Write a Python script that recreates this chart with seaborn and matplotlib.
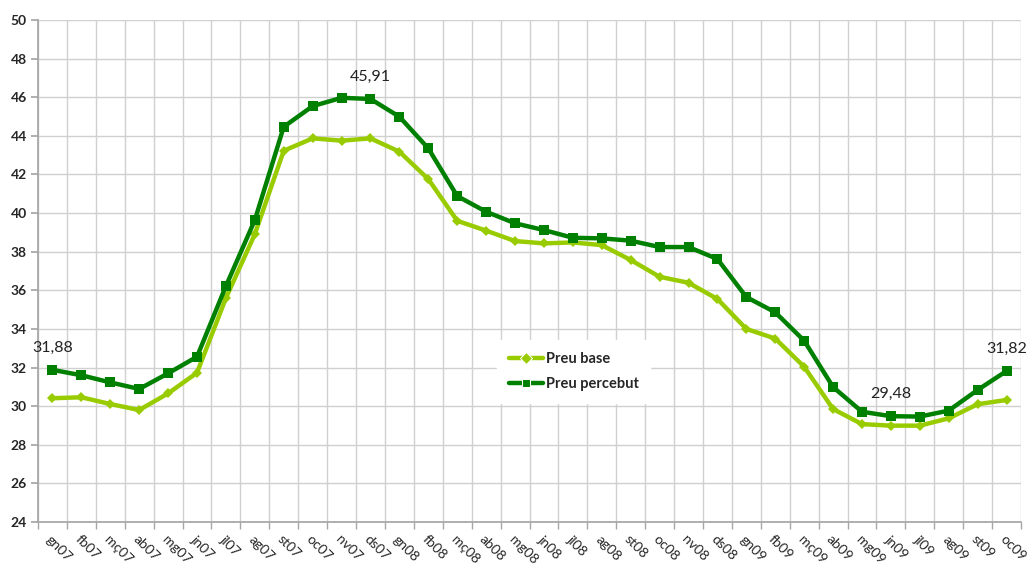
import numpy as np
import pandas as pd
import matplotlib
matplotlib.use("Agg")
import matplotlib.pyplot as plt
from matplotlib.ticker import FixedLocator
import seaborn as sns

months = ["gn07", "fb07", "mç07", "ab07", "mg07", "jn07", "jl07", "ag07", "st07", "oc07",
          "nv07", "ds07", "gn08", "fb08", "mç08", "ab08", "mg08", "jn08", "jl08", "ag08",
          "st08", "oc08", "nv08", "ds08", "gn09", "fb09", "mç09", "ab09", "mg09", "jn09",
          "jl09", "ag09", "st09", "oc09"]

preu_base = [30.41, 30.46, 30.11, 29.80, 30.66, 31.73, 35.60, 38.91, 43.23, 43.87,
             43.75, 43.87, 43.18, 41.76, 39.60, 39.09, 38.55, 38.43, 38.48, 38.34,
             37.57, 36.70, 36.39, 35.55, 34.00, 33.50, 32.04, 29.85, 29.07, 28.99,
             28.99, 29.37, 30.10, 30.32]

preu_percebut = [31.88, 31.60, 31.23, 30.89, 31.70, 32.56, 36.22, 39.64, 44.47, 45.54,
                 45.97, 45.91, 44.99, 43.35, 40.88, 40.07, 39.47, 39.12, 38.72, 38.69,
                 38.57, 38.24, 38.24, 37.62, 35.65, 34.86, 33.39, 30.99, 29.71, 29.48,
                 29.46, 29.77, 30.84, 31.82]

labels = {0: "31,88", 11: "45,91", 29: "29,48", 33: "31,82"}

sns.set_theme(style="white")
plt.rcParams["font.family"] = ["Lato", "DejaVu Sans"]

df = pd.DataFrame({"mes": months, "Preu base": preu_base, "Preu percebut": preu_percebut})
long_df = df.melt(id_vars="mes", var_name="serie", value_name="preu")
long_df["pos"] = long_df["mes"].map({m: i for i, m in enumerate(months)})

fig = plt.figure(figsize=(10.34, 5.68), dpi=100)
ax = fig.add_axes([38 / 1034, 1 - 522 / 568, (1021 - 38) / 1034, (522 - 20) / 568])

palette = {"Preu base": "#99CC00", "Preu percebut": "#008000"}
sns.lineplot(data=long_df, x="pos", y="preu", hue="serie", style="serie",
             markers={"Preu base": "D", "Preu percebut": "s"}, dashes=False,
             palette=palette, linewidth=3.2, sort=False, ax=ax)
for line, ms in zip(ax.lines, [5, 7]):
    line.set_markersize(ms)
    line.set_markeredgewidth(0)

ax.set_xlim(-0.5, len(months) - 0.5)
ax.set_ylim(24, 50)
ax.set_yticks(np.arange(24, 51, 2))
ax.set_yticklabels([str(v) for v in range(24, 51, 2)], fontweight="bold", fontsize=10)
ax.set_xticks(range(len(months)))
ax.set_xticklabels(months, rotation=-45, ha="left", va="top", rotation_mode="anchor", fontsize=10)
ax.xaxis.set_minor_locator(FixedLocator(np.arange(-0.5, len(months), 1)))
ax.tick_params(axis="x", which="major", length=0, pad=8)
ax.tick_params(axis="x", which="minor", length=5, color="#A6A6A6", direction="out", bottom=True)
ax.tick_params(axis="y", length=5, color="#A6A6A6", direction="out", left=True, pad=3)

ax.grid(True, axis="y", which="major", color="#D0D0D0", linewidth=1)
ax.grid(True, axis="x", which="minor", color="#D0D0D0", linewidth=1)
ax.grid(False, axis="x", which="major")
for side in ["top", "right"]:
    ax.spines[side].set_visible(False)
for side in ["left", "bottom"]:
    ax.spines[side].set_color("#A6A6A6")
ax.set_xlabel("")
ax.set_ylabel("")

for i, txt in labels.items():
    ax.annotate(txt, (i, preu_percebut[i]), xytext=(0, 11), textcoords="offset points",
                ha="center", va="bottom", fontsize=11.5, color="#222222")

leg = ax.legend(loc="center", bbox_to_anchor=(0.545, 0.3), frameon=True, framealpha=1,
                edgecolor="white", fontsize=10.5, handlelength=2.3, handletextpad=0.2,
                labelspacing=0.75, borderpad=0.8, numpoints=1)
for t in leg.get_texts():
    t.set_fontweight("bold")

fig.savefig("out.png", dpi=100)
